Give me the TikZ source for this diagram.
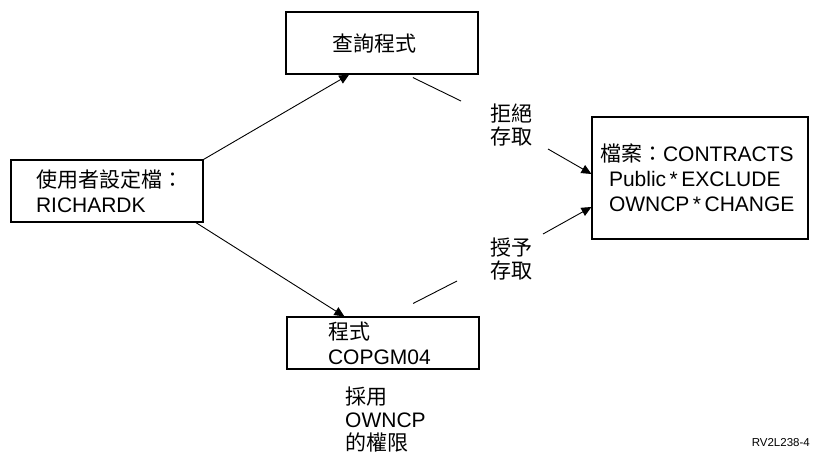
\documentclass[tikz,border=0pt]{standalone}
\usepackage{fontspec}
\setmainfont{Liberation Sans}
\newfontfamily\cjk{Noto Sans CJK TC}
\usetikzlibrary{arrows.meta,calc}
\begin{document}
\begin{tikzpicture}[x=1pt,y=-1pt,
  box/.style={draw,line width=1.1pt,align=left,inner ysep=0pt,font=\fontsize{21}{25}\selectfont},
  lbl/.style={inner sep=0pt,align=left,font=\cjk\fontsize{21}{23}\selectfont},
  conn/.style={line width=0.9pt},
  arr/.style={conn,-{Triangle[length=10pt,width=9pt]}}]
\useasboundingbox (0,0) rectangle (830,462);
% boxes
\node[box,minimum width=192pt,minimum height=62pt,text width=100pt,inner xsep=46pt] (q) at (382,43) {{\cjk 查詢程式}};
\node[box,minimum width=192pt,minimum height=62pt,text width=142pt,inner xsep=25pt] (u) at (107,191) {{\cjk 使用者設定檔：}\\RICHARDK};
\node[box,minimum width=216pt,minimum height=122pt,text width=200pt,inner xsep=8pt] (f) at (700,178) {{\cjk 檔案：}CONTRACTS\\\hspace*{9pt}Public\,*\,EXCLUDE\\\hspace*{9pt}OWNCP\,*\,CHANGE};
\node[box,minimum width=192pt,minimum height=52pt,text width=110pt,inner xsep=41pt] (p) at (383,343) {{\cjk 程式}\\COPGM04};
% labels
\node[lbl] (deny) at (511,125) {拒絕\\存取};
\node[lbl] (grant) at (511,259) {授予\\存取};
\node[lbl,font=\fontsize{21}{23}\selectfont,anchor=west] (own) at (345,420) {{\cjk 採用}\\OWNCP\\{\cjk 的權限}};
\node[font=\fontsize{11.5}{13}\selectfont,anchor=east,inner sep=0pt] (id) at (810,443) {RV2L238-4};
% connectors
\draw[arr] (u.north east) -- ($(q.south west)!0.33!(q.south east)$);
\draw[arr] ($(u.south west)!0.96!(u.south east)$) -- ($(p.north west)!0.30!(p.north east)$);
\coordinate (d1) at (461,101);
\coordinate (d2) at (548,149);
\draw[conn] ($(q.south west)!0.66!(q.south east)+(0,3)$) -- (d1);
\draw[arr] (d2) -- ($(f.west)+(0,-4)$);
\coordinate (g1) at (457,281);
\coordinate (g2) at (543,234);
\draw[conn] ($(p.north west)!0.656!(p.north east)+(0,-13)$) -- (g1);
\draw[arr] (g2) -- ($(f.west)+(0,29)$);
\end{tikzpicture}
\end{document}
